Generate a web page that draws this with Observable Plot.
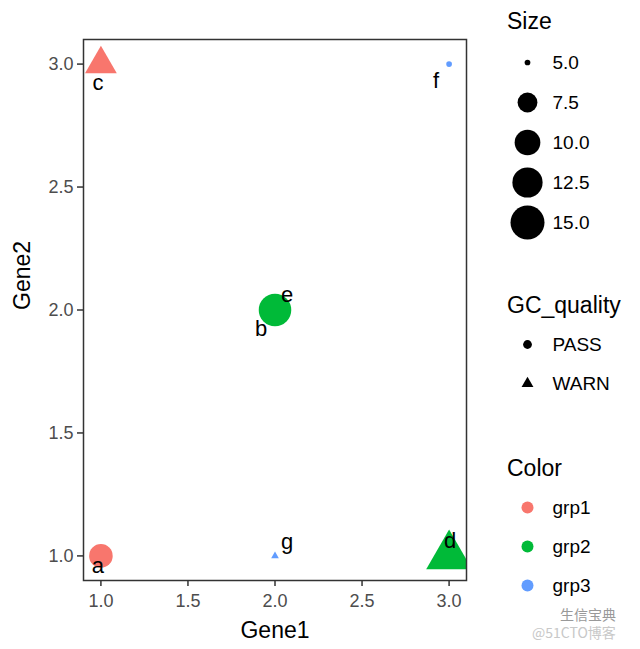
<!DOCTYPE html>
<html>
<head>
<meta charset="utf-8">
<script src="https://cdn.jsdelivr.net/npm/d3@7"></script>
<script src="https://cdn.jsdelivr.net/npm/@observablehq/plot@0.6"></script>
<style>
  html, body { margin: 0; padding: 0; background: #fff; }
  body { width: 640px; height: 649px; position: relative; overflow: hidden;
         font-family: "Liberation Sans", Arial, sans-serif; }
  #main { position: absolute; left: 0; top: 0; }
  .lg { position: absolute; left: 490px; }
  .lgtitle { position: absolute; left: 507px; font-size: 23px; color: #000; line-height: 1; }
  .wm { position: absolute; font-family: "Noto Sans CJK SC", sans-serif; color: #b5b5b5; line-height: 1; }
</style>
</head>
<body>
<div id="main"></div>
<div class="lgtitle" style="top:10px">Size</div>
<div class="lg" id="lgSize" style="top:42px"></div>
<div class="lgtitle" style="top:294px">GC_quality</div>
<div class="lg" id="lgQual" style="top:324px"></div>
<div class="lgtitle" style="top:457px">Color</div>
<div class="lg" id="lgColor" style="top:487px"></div>
<div class="wm" style="left:560px; top:607px; font-size:14px; color:#999">生信宝典</div>
<div class="wm" style="left:532px; top:625px; font-size:14px; color:#c8c8c8">@51CTO博客</div>
<script>
// ---- data ----
const names   = ["a", "b", "c", "d", "e", "f", "g"];
const gene1   = [1, 2, 1, 3, 2, 3, 2];
const gene2   = [1, 2, 3, 1, 2, 3, 1];
const sizes   = [9, 14, 9, 15, 10, 5, 5];
const quality = ["PASS", "PASS", "WARN", "WARN", "PASS", "PASS", "WARN"];
const groups  = ["grp1", "grp2", "grp1", "grp2", "grp2", "grp3", "grp3"];

const xTicks = [1.0, 1.5, 2.0, 2.5, 3.0];
const yTicks = [1.0, 1.5, 2.0, 2.5, 3.0];
const sizeTicks = [5.0, 7.5, 10.0, 12.5, 15.0];
const qualityLevels = ["PASS", "WARN"];
const groupLevels = ["grp1", "grp2", "grp3"];
const groupColors = ["#F8766D", "#00BA38", "#619CFF"];

// label nudges (ggrepel-like placement), in pixels
const labelDx = [-3, -14, -3, 1, 12, -13, 12];
const labelDy = [10, 19, 19, -15, -15, 17, -14];

const rows = names.map((n, i) => ({
  name: n, x: gene1[i], y: gene2[i], size: sizes[i],
  quality: quality[i], group: groups[i], dx: labelDx[i], dy: labelDy[i]
}));

const rScale = {type: "linear", transform: v => Math.sqrt((v - 5) / 10), range: [2.85, 17]};
const colorScale = {domain: groupLevels, range: groupColors};
const symbolScale = {domain: qualityLevels, range: ["circle", "triangle"]};

const main = Plot.plot({
  width: 640, height: 649,
  marginLeft: 83, marginRight: 174, marginTop: 39, marginBottom: 69,
  style: {fontFamily: "Liberation Sans, Arial, sans-serif", background: "#fff"},
  x: {domain: [0.9, 3.1]},
  y: {domain: [0.9, 3.1]},
  r: rScale,
  color: colorScale,
  symbol: symbolScale,
  marks: [
    Plot.dot(rows, {x: "x", y: "y", r: "size", fill: "group", symbol: "quality", clip: true}),
    ...rows.map(d => Plot.text([d], {x: "x", y: "y", text: "name", dx: d.dx, dy: d.dy,
                                     fontSize: 22, fill: "#000"})),
    Plot.frame({stroke: "#333", strokeWidth: 1.5}),
    Plot.axisX({ticks: xTicks, tickFormat: d => d.toFixed(1), tickSize: 6, tickPadding: 8,
                fontSize: 18, stroke: "#333", fill: "#4D4D4D", label: null, strokeWidth: 1.5}),
    Plot.axisY({ticks: yTicks, tickFormat: d => d.toFixed(1), tickSize: 6, tickPadding: 4,
                fontSize: 18, stroke: "#333", fill: "#4D4D4D", label: null, strokeWidth: 1.5}),
    Plot.text(["Gene1"], {frameAnchor: "bottom", dy: 57, fontSize: 23, fill: "#000"}),
    Plot.text(["Gene2"], {frameAnchor: "left", dx: -61, rotate: -90, fontSize: 23, fill: "#000"})
  ]
});
document.getElementById("main").appendChild(main);

// ---- legends ----
const lgSize = Plot.plot({
  width: 150, height: 200, margin: 0,
  style: {fontFamily: "Liberation Sans, Arial, sans-serif", background: "transparent", overflow: "visible"},
  x: {axis: null}, y: {type: "point", domain: sizeTicks, padding: 0.5, axis: null},
  r: rScale,
  marks: [
    Plot.dot(sizeTicks, {y: d => d, r: d => d, fill: "#000", frameAnchor: "left", dx: 37}),
    Plot.text(sizeTicks, {y: d => d, text: d => d.toFixed(1), frameAnchor: "left", dx: 62,
                          textAnchor: "start", fontSize: 19, fill: "#000"})
  ]
});
document.getElementById("lgSize").appendChild(lgSize);

const lgQual = Plot.plot({
  width: 150, height: 78, margin: 0,
  style: {fontFamily: "Liberation Sans, Arial, sans-serif", background: "transparent", overflow: "visible"},
  x: {axis: null}, y: {type: "point", domain: qualityLevels, padding: 0.5, axis: null},
  symbol: symbolScale,
  marks: [
    Plot.dot(qualityLevels, {y: d => d, symbol: d => d, r: 4.4, fill: "#000", frameAnchor: "left", dx: 37}),
    Plot.text(qualityLevels, {y: d => d, text: d => d, frameAnchor: "left", dx: 62,
                              textAnchor: "start", fontSize: 19, fill: "#000"})
  ]
});
document.getElementById("lgQual").appendChild(lgQual);

const lgColor = Plot.plot({
  width: 150, height: 117, margin: 0,
  style: {fontFamily: "Liberation Sans, Arial, sans-serif", background: "transparent", overflow: "visible"},
  x: {axis: null}, y: {type: "point", domain: groupLevels, padding: 0.5, axis: null},
  color: colorScale,
  marks: [
    Plot.dot(groupLevels, {y: d => d, fill: d => d, r: 6, frameAnchor: "left", dx: 37}),
    Plot.text(groupLevels, {y: d => d, text: d => d, frameAnchor: "left", dx: 62,
                            textAnchor: "start", fontSize: 19, fill: "#000"})
  ]
});
document.getElementById("lgColor").appendChild(lgColor);
</script>
</body>
</html>
